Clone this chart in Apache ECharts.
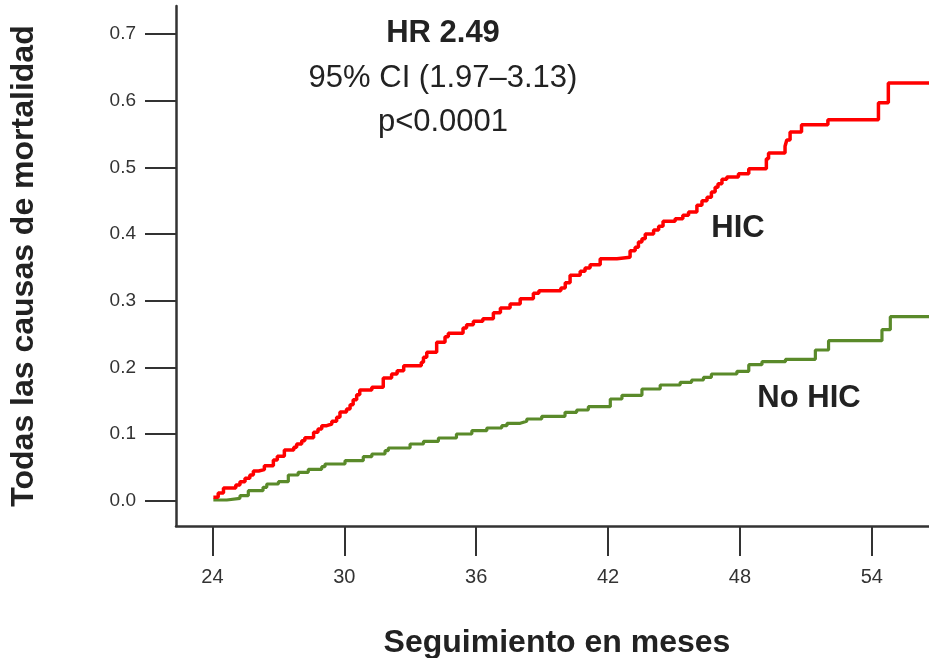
<!DOCTYPE html>
<html>
<head>
<meta charset="utf-8">
<script src="https://cdn.jsdelivr.net/npm/echarts@6/dist/echarts.min.js"></script>
<style>
html,body{margin:0;padding:0;background:#fff;}
#c{width:929px;height:658px;}
</style>
</head>
<body>
<div id="c"></div>
<script>
// ---- data ----
var hicTime = [24.04,24.26,24.5,25.06,25.25,25.48,25.7,25.86,26.1,26.36,26.77,26.95,27.27,27.7,27.83,28.06,28.2,28.6,28.8,28.97,29.2,29.43,29.65,29.8,30.1,30.26,30.4,30.56,30.7,31.25,31.77,32.15,32.4,32.7,33.5,33.6,33.75,34.2,34.58,34.73,35.4,35.56,35.87,36.3,36.78,37.1,37.54,38.0,38.6,38.85,39.85,40.05,40.27,40.73,40.95,41.18,41.64,42.4,43.0,43.23,43.38,43.54,43.69,44.07,44.3,44.5,45.05,45.4,45.66,46.04,46.27,46.5,46.7,46.87,47.0,47.18,47.4,47.93,48.4,49.2,49.3,50.05,50.13,50.28,50.8,52.0,54.3,54.75,56.6];
var hicValue = [0.005,0.0115,0.019,0.0235,0.0285,0.0335,0.0385,0.0445,0.0465,0.0525,0.061,0.0665,0.076,0.08,0.085,0.09,0.0945,0.1025,0.1075,0.1125,0.115,0.119,0.125,0.133,0.1375,0.144,0.1515,0.159,0.166,0.17,0.184,0.19,0.195,0.2025,0.2075,0.215,0.2225,0.2375,0.246,0.251,0.259,0.264,0.269,0.273,0.282,0.289,0.295,0.303,0.311,0.315,0.319,0.327,0.338,0.344,0.349,0.354,0.363,0.365,0.375,0.38,0.388,0.393,0.4,0.406,0.4115,0.419,0.423,0.428,0.433,0.443,0.45,0.455,0.463,0.47,0.4755,0.482,0.4855,0.4905,0.498,0.513,0.5215,0.5315,0.541,0.553,0.564,0.5715,0.597,0.6265,0.6265];
var noHicTime = [24.04,24.65,25.25,25.63,26.3,26.47,27.0,27.45,27.9,28.36,28.97,29.12,30.03,30.86,31.25,31.85,32.0,32.99,33.6,34.28,35.1,35.8,36.48,37.16,37.4,38.0,38.3,38.98,40.04,40.57,41.1,42.1,42.63,43.54,44.37,45.28,45.8,46.34,46.7,47.86,48.4,49.0,50.07,51.43,52.03,54.46,54.84,56.6];
var noHicValue = [0.001,0.0035,0.0075,0.015,0.02,0.025,0.0285,0.0385,0.0425,0.047,0.051,0.055,0.06,0.066,0.07,0.075,0.079,0.085,0.089,0.094,0.1,0.105,0.109,0.1125,0.116,0.119,0.1225,0.1265,0.1325,0.136,0.141,0.1525,0.158,0.1675,0.1735,0.1775,0.181,0.185,0.19,0.194,0.204,0.2085,0.212,0.226,0.24,0.2565,0.276,0.276];
var xTicks = [24,30,36,42,48,54];
var yTicks = [0,0.1,0.2,0.3,0.4,0.5,0.6,0.7];
var seriesNames = ['HIC','No HIC'];
var statLines = ['HR 2.49','95% CI (1.97\u20133.13)','p<0.0001'];
var xTitle = 'Seguimiento en meses';
var yTitle = 'Todas las causas de mortalidad';

function pairs(t, v){ return t.map(function(x,i){ return [x, v[i]]; }); }

var FONT = '"Liberation Sans", Arial, sans-serif';
var axisColor = '#333333';
var chart = echarts.init(document.getElementById('c'), null, {renderer:'canvas'});
chart.setOption({
  animation:false,
  backgroundColor:'#ffffff',
  grid:{left:176, right:0, top:6, bottom:132, containLabel:false, outerBoundsMode:'none'},
  xAxis:{
    type:'value', min:22.34, max:56.6,
    name:xTitle, nameLocation:'middle', nameGap:101,
    nameTextStyle:{fontFamily:FONT, fontWeight:'bold', fontSize:32, color:'#222', padding:[0,0,0,9]},
    axisLine:{show:true, onZero:false, lineStyle:{color:axisColor, width:2.5}},
    axisTick:{show:true, length:30, lineStyle:{color:axisColor, width:2}, customValues:xTicks},
    axisLabel:{margin:41, fontFamily:FONT, fontSize:20, color:'#333', customValues:xTicks, formatter:function(v){return String(v);}},
    splitLine:{show:false}
  },
  yAxis:{
    type:'value', min:-0.038, max:0.742,
    name:yTitle, nameLocation:'middle', nameGap:136, nameRotate:90,
    nameTextStyle:{fontFamily:FONT, fontWeight:'bold', fontSize:32, color:'#222'},
    axisLine:{show:true, onZero:false, lineStyle:{color:axisColor, width:2.5}},
    axisTick:{show:true, length:31, lineStyle:{color:axisColor, width:2}, customValues:yTicks},
    axisLabel:{margin:40, fontFamily:FONT, fontSize:19, color:'#333', customValues:yTicks, formatter:function(v){return v.toFixed(1);}},
    splitLine:{show:false}
  },
  graphic:[
    {type:'text', x:443, y:33, style:{text:statLines[0], font:'bold 31px '+FONT, fill:'#222', textAlign:'center', textVerticalAlign:'middle'}},
    {type:'text', x:443, y:78, style:{text:statLines[1], font:'31px '+FONT, fill:'#222', textAlign:'center', textVerticalAlign:'middle'}},
    {type:'text', x:443, y:122, style:{text:statLines[2], font:'31px '+FONT, fill:'#222', textAlign:'center', textVerticalAlign:'middle'}},
    {type:'text', x:738, y:228, style:{text:seriesNames[0], font:'bold 31px '+FONT, fill:'#222', textAlign:'center', textVerticalAlign:'middle'}},
    {type:'text', x:809, y:398, style:{text:seriesNames[1], font:'bold 31px '+FONT, fill:'#222', textAlign:'center', textVerticalAlign:'middle'}}
  ],
  series:[
    {name:seriesNames[0], type:'line', step:'end', showSymbol:false, symbol:'none', data:pairs(hicTime,hicValue),
     lineStyle:{color:'#ff0000', width:3.5}, itemStyle:{color:'#ff0000'}, z:3},
    {name:seriesNames[1], type:'line', step:'end', showSymbol:false, symbol:'none', data:pairs(noHicTime,noHicValue),
     lineStyle:{color:'#5a8a2a', width:3.2}, itemStyle:{color:'#5a8a2a'}, z:2}
  ]
});
</script>
</body>
</html>
